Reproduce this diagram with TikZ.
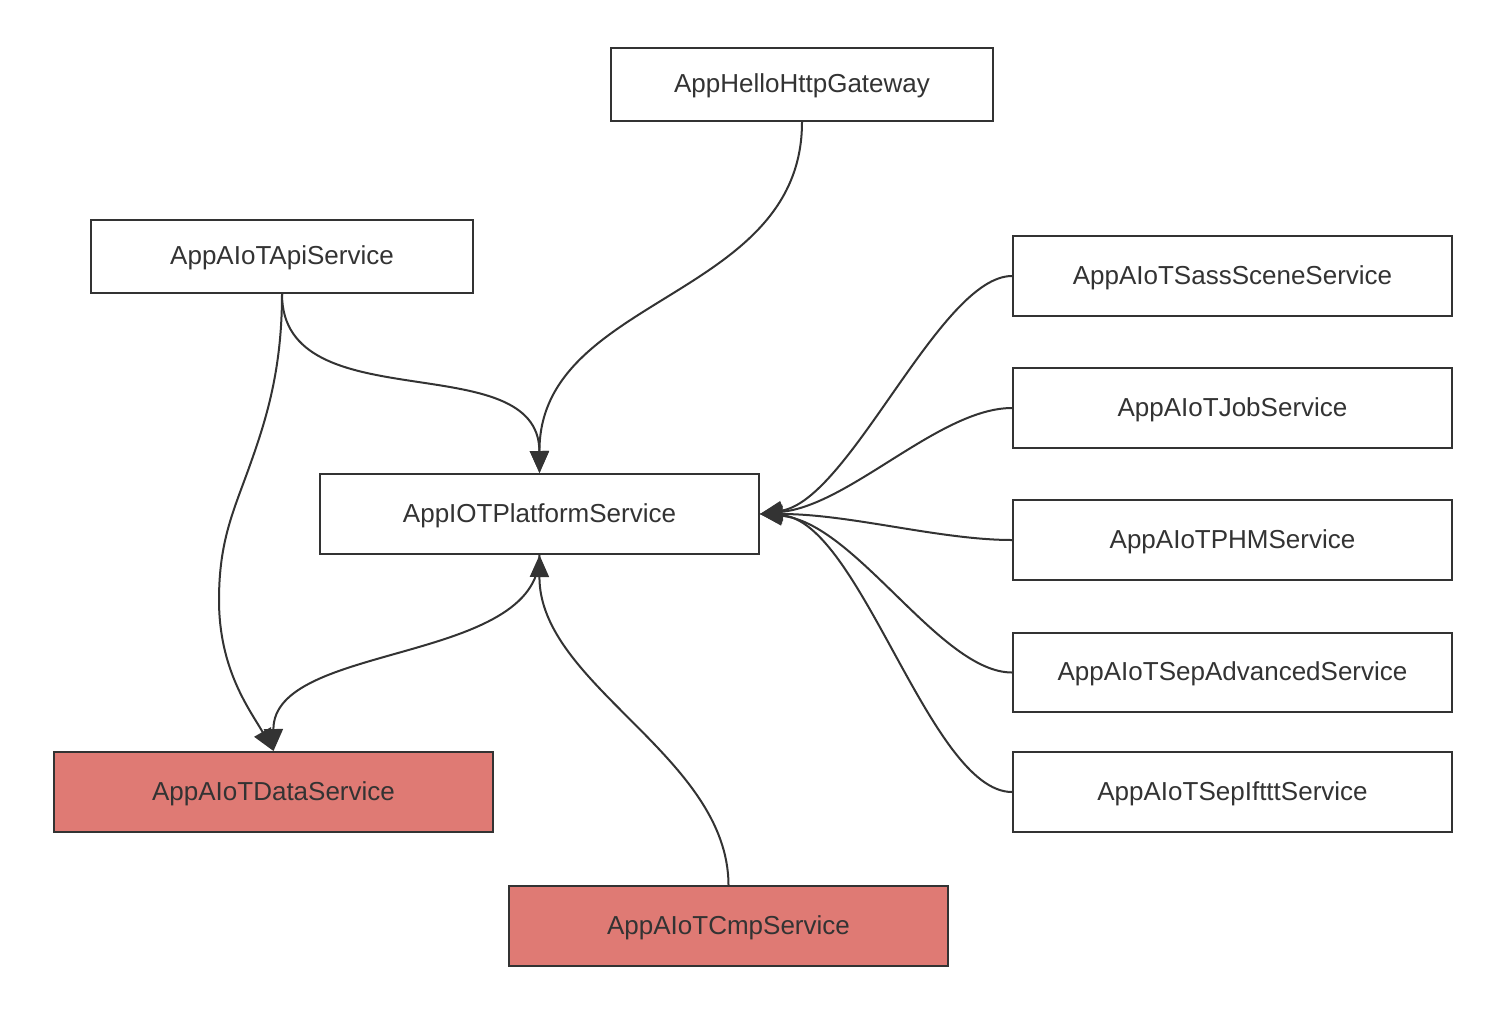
\documentclass[tikz,border=0pt]{standalone}
\usepackage{fontspec}
\setmainfont{Liberation Sans}
\usetikzlibrary{arrows.meta}
\definecolor{edgec}{HTML}{333333}
\definecolor{redfill}{HTML}{DF7A74}
\begin{document}
\begin{tikzpicture}[x=1pt,y=-1pt,
  svc/.style={draw=edgec,line width=2pt,fill=white,inner sep=0pt,minimum width=439pt,minimum height=80pt,
    text=edgec,font=\fontsize{26}{30}\selectfont,text height=20pt,text depth=3.5pt},
  hot/.style={svc,fill=redfill},
  link/.style={draw=edgec,line width=2pt,-{Triangle[length=22pt,width=19pt]}}]
\useasboundingbox (0,0) rectangle (1506,1028);
% nodes
\node[svc,minimum width=382pt,minimum height=73pt] (gw) at (802,84.5) {AppHelloHttpGateway};
\node[svc,minimum width=382pt,minimum height=73pt] (api) at (282,256.5) {AppAIoTApiService};
\node[svc] (plat) at (539.5,514) {AppIOTPlatformService};
\node[svc] (sass) at (1232.5,276) {AppAIoTSassSceneService};
\node[svc] (job) at (1232.5,408) {AppAIoTJobService};
\node[svc] (phm) at (1232.5,540) {AppAIoTPHMService};
\node[svc,minimum height=79pt] (adv) at (1232.5,672.5) {AppAIoTSepAdvancedService};
\node[svc] (ift) at (1232.5,792) {AppAIoTSepIftttService};
\node[hot] (data) at (273.5,792) {AppAIoTDataService};
\node[hot] (cmp) at (728.5,926) {AppAIoTCmpService};
% edges
\draw[link] (gw.south) .. controls (802,300) and (539,295) .. (plat.north);
\draw[link] (api.south) .. controls (282,423) and (539,344) .. (plat.north);
\draw[link] (api.south) .. controls (282,370) and (266,420) .. (250,465)
  .. controls (234,510) and (219,540) .. (219,600)
  .. controls (219,670) and (250,710) .. (data.north);
\draw[link] (plat.south) .. controls (539,665) and (273,642) .. (data.north);
\draw[link] (cmp.north) .. controls (728,756) and (539,685) .. (plat.south);
\draw[link] (sass.west) .. controls (940,276) and (850,500) .. (plat.east);
\draw[link] (job.west) .. controls (940,408) and (850,505) .. (plat.east);
\draw[link] (phm.west) .. controls (940,540) and (850,514) .. (plat.east);
\draw[link] (adv.west) .. controls (940,672.5) and (855,522) .. (plat.east);
\draw[link] (ift.west) .. controls (930,792) and (860,520) .. (plat.east);
\end{tikzpicture}
\end{document}
